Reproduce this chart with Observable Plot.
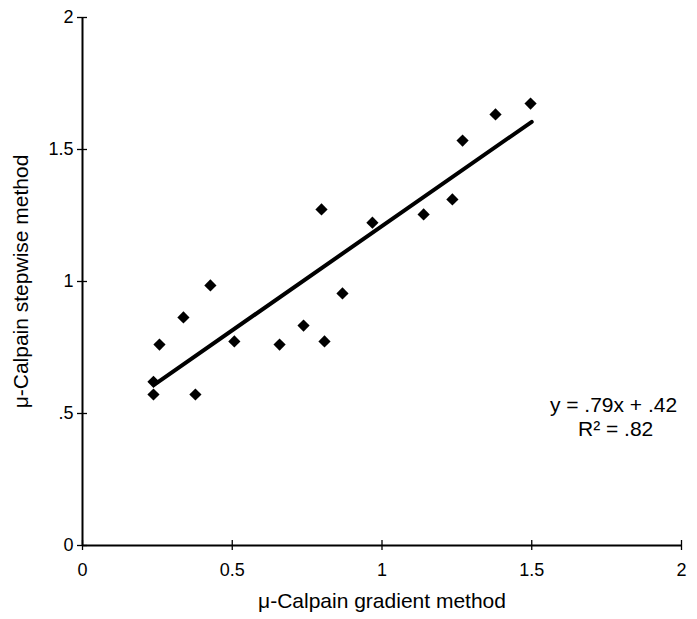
<!DOCTYPE html>
<html>
<head>
<meta charset="utf-8">
<script src="https://cdn.jsdelivr.net/npm/d3@7"></script>
<script src="https://cdn.jsdelivr.net/npm/@observablehq/plot@0.6"></script>
<style>
html,body{margin:0;padding:0;background:#fff;}
#chart svg{display:block;font-family:'Liberation Sans',Arial,sans-serif;}
#chart svg g[aria-label$="tick label"],
#chart svg g[aria-label$="tick label"] text{font-size:18px !important;}
#chart svg g[aria-label="x-axis label"],
#chart svg g[aria-label="y-axis label"]{font-size:21px;}
</style>
</head>
<body>
<div id="chart"></div>
<script>
const gradient = [0.237, 0.237, 0.257, 0.337, 0.377, 0.427, 0.507, 0.658, 0.738, 0.808, 0.798, 0.868, 0.968, 1.139, 1.235, 1.269, 1.379, 1.496];
const stepwise = [0.62, 0.572, 0.761, 0.864, 0.572, 0.985, 0.773, 0.761, 0.833, 0.773, 1.273, 0.955, 1.223, 1.254, 1.311, 1.534, 1.633, 1.674];
const fitSlope = 0.79;
const fitIntercept = 0.42;
const fitRange = [0.24, 1.50];
const xTicks = [0, 0.5, 1, 1.5, 2];
const xTickLabels = ["0", "0.5", "1", "1.5", "2"];
const yTicks = [0, 0.5, 1, 1.5, 2];
const yTickLabels = ["0", ".5", "1", "1.5", "2"];
const xTitle = "\u03BC-Calpain gradient method";
const yTitle = "\u03BC-Calpain stepwise method";
const equationText = "y = .79x + .42";
const r2Text = "R\u00B2 = .82";

const points = gradient.map((x, i) => ({x, y: stepwise[i]}));
const fitLine = fitRange.map(x => ({x, y: fitSlope * x + fitIntercept}));

const chart = Plot.plot({
  width: 697,
  height: 619,
  marginLeft: 82,
  marginRight: 16,
  marginTop: 17,
  marginBottom: 74,
  style: {background: "#fff", color: "#000"},
  x: {domain: [0, 2]},
  y: {domain: [0, 2]},
  marks: [
    Plot.axisX({ticks: xTicks, tickFormat: d => xTickLabels[xTicks.indexOf(d)], tickSize: 0, tickPadding: 18, label: xTitle, labelAnchor: "center", labelArrow: "none", labelOffset: 62}),
    Plot.axisY({ticks: yTicks, tickFormat: d => yTickLabels[yTicks.indexOf(d)], tickSize: 0, tickPadding: 9, label: yTitle, labelAnchor: "center", labelArrow: "none", labelOffset: 69}),
    Plot.ruleX(xTicks, {x: d => d, y1: 0, y2: 0, insetTop: -5, insetBottom: -5, stroke: "#000", strokeWidth: 1.3}),
    Plot.ruleY(yTicks, {y: d => d, x1: 0, x2: 0, insetLeft: -5, insetRight: -5, stroke: "#000", strokeWidth: 1.3}),
    Plot.ruleX([0], {stroke: "#000", strokeWidth: 2}),
    Plot.ruleY([0], {stroke: "#000", strokeWidth: 2}),
    Plot.line(fitLine, {x: "x", y: "y", stroke: "#000", strokeWidth: 4}),
    Plot.dot(points, {x: "x", y: "y", symbol: "diamond2", r: 5.5, fill: "#000", stroke: "none"}),
    Plot.text([equationText], {x: 1.773, y: 0.53, text: d => d, fontSize: 21, fill: "#000", fontFamily: "'Liberation Sans',Arial,sans-serif"}),
    Plot.text([r2Text], {x: 1.78, y: 0.439, text: d => d, fontSize: 21, fill: "#000", fontFamily: "'Liberation Sans',Arial,sans-serif"})
  ]
});
document.getElementById("chart").appendChild(chart);
</script>
</body>
</html>
